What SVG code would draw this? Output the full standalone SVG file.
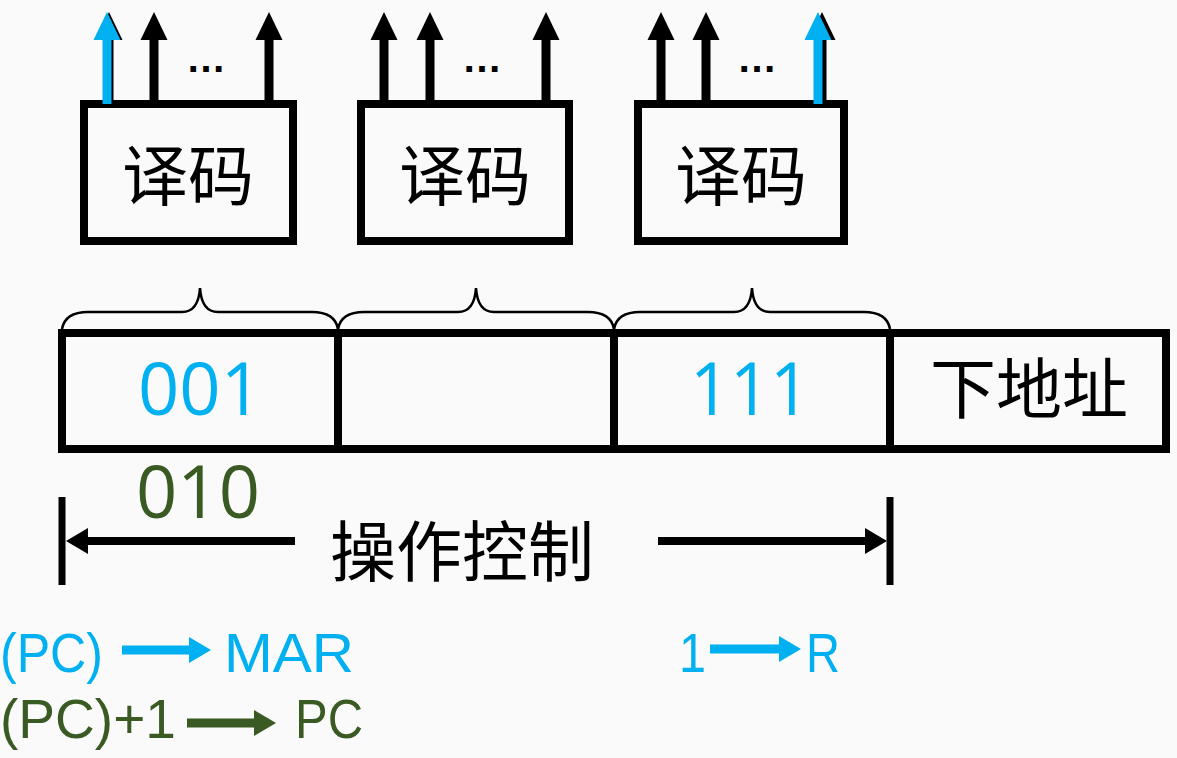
<svg xmlns="http://www.w3.org/2000/svg" width="1177" height="758" viewBox="0 0 1177 758">
<style>
.box{fill:none;stroke:#000;stroke-width:8}
.cjk{font-family:"Noto Sans CJK SC","Noto Sans CJK JP",sans-serif;font-size:66px;fill:#000;text-anchor:middle}
.lat{font-family:"Open Sans","Liberation Sans",sans-serif}
.low{font-family:"Liberation Sans","Open Sans",sans-serif;font-size:56px}
.blue{fill:#00B0F0}
.green{fill:#3A5A24}
.shaft{stroke-width:9;fill:none}
.brace{fill:none;stroke:#000;stroke-width:2.5}
.dots{font-family:"Liberation Sans",sans-serif;font-size:40px;font-weight:bold;fill:#000;text-anchor:middle}
</style>
<defs>
<marker id="hk" markerUnits="userSpaceOnUse" markerWidth="28" markerHeight="28" refX="0" refY="13.5" orient="auto" viewBox="0 0 28 27"><path d="M0,0 L28,13.5 L0,27 Z" fill="#000"/></marker>
<marker id="hb" markerUnits="userSpaceOnUse" markerWidth="28" markerHeight="28" refX="0" refY="13.5" orient="auto" viewBox="0 0 28 27"><path d="M0,0 L28,13.5 L0,27 Z" fill="#00B0F0"/></marker>
<marker id="sb" markerUnits="userSpaceOnUse" markerWidth="22" markerHeight="26" refX="0" refY="13" orient="auto" viewBox="0 0 22 26"><path d="M0,0 L22,13 L0,26 Z" fill="#00B0F0"/></marker>
<marker id="sg" markerUnits="userSpaceOnUse" markerWidth="22" markerHeight="26" refX="0" refY="13" orient="auto" viewBox="0 0 22 26"><path d="M0,0 L22,13 L0,26 Z" fill="#3A5A24"/></marker>
<marker id="sk" markerUnits="userSpaceOnUse" markerWidth="22" markerHeight="26" refX="0" refY="13" orient="auto" viewBox="0 0 22 26"><path d="M0,0 L22,13 L0,26 Z" fill="#000"/></marker>
</defs>
<rect width="1177" height="758" fill="#FAFAFA"/>

<g id="decoder1">
<rect class="box" x="84" y="104" width="209" height="137"/>
<text class="cjk" x="188" y="200">译码</text>
</g>
<g id="decoder2">
<rect class="box" x="361" y="104" width="208" height="137"/>
<text class="cjk" x="465" y="200">译码</text>
</g>
<g id="decoder3">
<rect class="box" x="638" y="104" width="206" height="137"/>
<text class="cjk" x="741" y="200">译码</text>
</g>

<g id="register">
<rect class="box" x="62" y="333" width="1104" height="116"/>
<line x1="338" y1="333" x2="338" y2="449" stroke="#000" stroke-width="8"/>
<line x1="614" y1="333" x2="614" y2="449" stroke="#000" stroke-width="8"/>
<line x1="890" y1="333" x2="890" y2="449" stroke="#000" stroke-width="8"/>
<text class="lat blue" x="200" y="415" font-size="74" text-anchor="middle" textLength="124" lengthAdjust="spacingAndGlyphs">001</text>
<text class="lat blue" x="750" y="415" font-size="74" text-anchor="middle" textLength="120" lengthAdjust="spacingAndGlyphs">111</text>
<text class="cjk" x="1029" y="413">下地址</text>
</g>

<g id="field-010">
<text class="lat green" x="198" y="518" font-size="74" text-anchor="middle" textLength="124" lengthAdjust="spacingAndGlyphs">010</text>
</g>

<g id="op-control">
<line x1="62" y1="497" x2="62" y2="585" stroke="#000" stroke-width="7"/>
<line x1="890" y1="497" x2="890" y2="585" stroke="#000" stroke-width="7"/>
<text class="cjk" x="462" y="576" font-size="70">操作控制</text>
</g>

<g id="micro-ops">
<text class="low blue" x="0" y="672" textLength="103" lengthAdjust="spacingAndGlyphs">(PC)</text>
<text class="low blue" x="224" y="672" textLength="130" lengthAdjust="spacingAndGlyphs">MAR</text>
<text class="low green" x="0" y="738" textLength="176" lengthAdjust="spacingAndGlyphs">(PC)+1</text>
<text class="low green" x="295" y="738" textLength="68" lengthAdjust="spacingAndGlyphs">PC</text>
<text class="low blue" x="679" y="672" textLength="27" lengthAdjust="spacingAndGlyphs">1</text>
<text class="low blue" x="806" y="672" textLength="34" lengthAdjust="spacingAndGlyphs">R</text>
</g>

<g id="connectors">
<!-- decoder 1 outputs -->
<line class="shaft" x1="109" y1="100" x2="109" y2="40" stroke="#000" marker-end="url(#hk)"/>
<line class="shaft" x1="107" y1="104" x2="107" y2="40" stroke="#00B0F0" marker-end="url(#hb)"/>
<line class="shaft" x1="154" y1="100" x2="154" y2="40" stroke="#000" marker-end="url(#hk)"/>
<line class="shaft" x1="269" y1="100" x2="269" y2="40" stroke="#000" marker-end="url(#hk)"/>
<text class="dots" x="206" y="72">…</text>
<!-- decoder 2 outputs -->
<line class="shaft" x1="384" y1="100" x2="384" y2="40" stroke="#000" marker-end="url(#hk)"/>
<line class="shaft" x1="430" y1="100" x2="430" y2="40" stroke="#000" marker-end="url(#hk)"/>
<line class="shaft" x1="546" y1="100" x2="546" y2="40" stroke="#000" marker-end="url(#hk)"/>
<text class="dots" x="482" y="72">…</text>
<!-- decoder 3 outputs -->
<line class="shaft" x1="661" y1="100" x2="661" y2="40" stroke="#000" marker-end="url(#hk)"/>
<line class="shaft" x1="706" y1="100" x2="706" y2="40" stroke="#000" marker-end="url(#hk)"/>
<line class="shaft" x1="822" y1="100" x2="822" y2="40" stroke="#000" marker-end="url(#hk)"/>
<line class="shaft" x1="818" y1="104" x2="818" y2="40" stroke="#00B0F0" marker-end="url(#hb)"/>
<text class="dots" x="757" y="72">…</text>
<!-- braces -->
<path class="brace" d="M62,329 C64,318 72,312 88,312 L182,312 C194,312 199,303 200,288 C201,303 206,312 218,312 L312,312 C328,312 336,318 338,329"/>
<path class="brace" d="M338,329 C340,318 348,312 364,312 L458,312 C470,312 475,303 476,288 C477,303 482,312 494,312 L588,312 C604,312 612,318 614,329"/>
<path class="brace" d="M614,329 C616,318 624,312 640,312 L734,312 C746,312 751,303 752,288 C753,303 758,312 770,312 L864,312 C880,312 888,318 890,329"/>
<!-- operation control span -->
<line x1="295" y1="541" x2="88" y2="541" stroke="#000" stroke-width="8" marker-end="url(#sk)"/>
<line x1="658" y1="541" x2="865" y2="541" stroke="#000" stroke-width="8" marker-end="url(#sk)"/>
<!-- micro-op arrows -->
<line x1="122" y1="650" x2="189" y2="650" stroke="#00B0F0" stroke-width="9" marker-end="url(#sb)"/>
<line x1="187" y1="723" x2="254" y2="723" stroke="#3A5A24" stroke-width="9" marker-end="url(#sg)"/>
<line x1="710" y1="649" x2="779" y2="649" stroke="#00B0F0" stroke-width="9" marker-end="url(#sb)"/>
</g>
</svg>
